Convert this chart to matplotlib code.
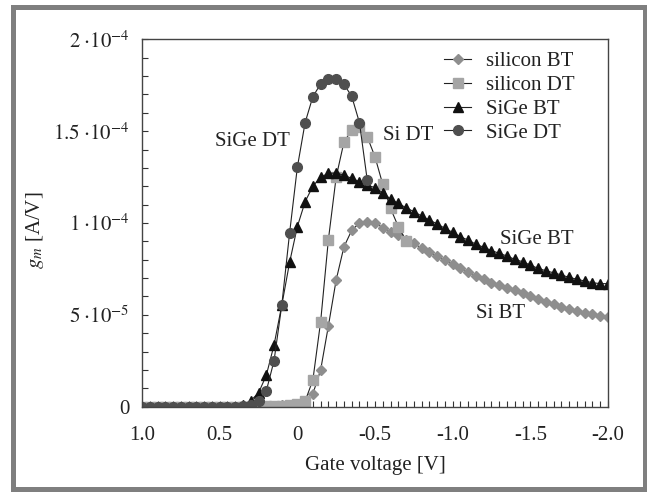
import numpy as np
import matplotlib
matplotlib.use("Agg")
import matplotlib.pyplot as plt
from matplotlib.patches import Rectangle
from matplotlib.ticker import MultipleLocator

plt.rcParams['font.family'] = ['Liberation Serif', 'DejaVu Serif']
plt.rcParams['mathtext.fontset'] = 'stix'

# Gate voltage sweep (V)
voltage = np.linspace(1.0, -2.0, 61)

# transconductance values in units of 1e-5 A/V
silicon_bt = [0]*14 + [0.02, 0.03, 0.04, 0.05, 0.07, 0.1, 0.15,
    0.3, 0.7, 2.0, 4.4, 6.9, 8.7, 9.6, 10.0, 10.07, 10.0,
    9.75, 9.53, 9.35, 9.1, 8.9, 8.62, 8.42, 8.18, 7.97, 7.76,
    7.53, 7.35, 7.12, 6.93, 6.76, 6.62, 6.48, 6.35, 6.21, 6.04,
    5.86, 5.72, 5.57, 5.44, 5.30, 5.21, 5.12, 5.03, 4.94, 4.90]
silicon_dt = [0]*14 + [0.0, 0.01, 0.02, 0.03, 0.05, 0.08, 0.12,
    0.3, 1.45, 4.63, 9.1, 12.5, 14.4, 15.06, 15.2, 14.7, 13.6,
    12.1, 10.8, 9.8, 9.04]
sige_bt = [0]*13 + [0.08, 0.33, 0.75, 1.7, 3.36, 5.53, 7.85, 9.8,
    11.16, 12.0, 12.5, 12.7, 12.72, 12.6, 12.43, 12.25, 12.07, 11.92,
    11.65, 11.3, 11.07, 10.83, 10.62, 10.38, 10.16, 9.95, 9.71, 9.49,
    9.25, 9.07, 8.84, 8.68, 8.5, 8.35, 8.2, 8.02, 7.89, 7.71,
    7.53, 7.40, 7.29, 7.17, 7.04, 6.94, 6.84, 6.75, 6.70, 6.70]
sige_dt = [0]*13 + [0.03, 0.1, 0.3, 0.85, 2.5, 5.54, 9.44, 13.03,
    15.46, 16.88, 17.57, 17.82, 17.82, 17.55, 16.9, 15.46, 12.34]

scale = 1e-5
series_labels = ['silicon BT', 'silicon DT', 'SiGe BT', 'SiGe DT']
ytick_vals = [0, 5e-5, 1e-4, 1.5e-4, 2e-4]
ytick_labels = ['0', r'$5\;{\cdot}10^{-5}$', r'$1\;{\cdot}10^{-4}$',
                r'$1.5\;{\cdot}10^{-4}$', r'$2\;{\cdot}10^{-4}$']
xtick_vals = [1.0, 0.5, 0.0, -0.5, -1.0, -1.5, -2.0]
xtick_labels = ['1.0', '0.5', '0', '-0.5', '-1.0', '-1.5', '-2.0']

FS = 15
fig = plt.figure(figsize=(6.47, 4.92), dpi=100)
ax = fig.add_axes([142/647, 1-406.7/492, 466/647, 367.4/492])

line_c = '#222222'
ax.plot(voltage[:len(silicon_bt)], np.array(silicon_bt)*scale, '-', color=line_c, lw=0.8,
        marker='D', ms=5.2, mfc='#8e8e8e', mec='#8e8e8e', label=series_labels[0])
ax.plot(voltage[:len(silicon_dt)], np.array(silicon_dt)*scale, '-', color=line_c, lw=0.8,
        marker='s', ms=6.5, mfc='#a5a5a5', mec='#a5a5a5', label=series_labels[1])
ax.plot(voltage[:len(sige_bt)], np.array(sige_bt)*scale, '-', color=line_c, lw=0.8,
        marker='^', ms=7, mfc='#111111', mec='#111111', label=series_labels[2])
ax.plot(voltage[:len(sige_dt)], np.array(sige_dt)*scale, '-', color=line_c, lw=0.8,
        marker='o', ms=7, mfc='#4f4f4f', mec='#4f4f4f', label=series_labels[3])

ax.set_xlim(1.0, -2.0)
ax.set_ylim(0, 2e-4)
ax.set_xticks(xtick_vals)
ax.set_xticklabels(xtick_labels)
ax.set_yticks(ytick_vals)
ax.set_yticklabels(ytick_labels)
ax.xaxis.set_minor_locator(MultipleLocator(0.05))
ax.yaxis.set_minor_locator(MultipleLocator(1e-5))
ax.tick_params(axis='both', which='both', direction='in', length=4, width=0.8,
               colors='#333333', labelcolor='#222222', labelsize=FS)
ax.tick_params(axis='x', which='major', pad=14)
ax.tick_params(axis='y', which='major', pad=9)
for sp in ax.spines.values():
    sp.set_color('#444444')
    sp.set_linewidth(1.0)
for lab in ax.get_xticklabels() + ax.get_yticklabels():
    lab.set_clip_on(False)

ax.set_xlabel('Gate voltage [V]', fontsize=FS, color='#222222', labelpad=8)
ax.set_ylabel(r'$g_m$ [A/V]', fontsize=FS, color='#222222')
ax.yaxis.set_label_coords(-0.205, 0.48)

leg = ax.legend(loc='upper right', bbox_to_anchor=(0.955, 1.0), frameon=False,
                fontsize=FS, handlelength=1.3, handletextpad=0.7,
                labelspacing=0.2, numpoints=1, borderaxespad=0.2)
for t in leg.get_texts():
    t.set_color('#222222')

ann = dict(fontsize=FS, color='#222222', ha='center', va='center', transform=ax.transAxes)
ax.text(0.238, 0.721, 'SiGe DT', **ann)
ax.text(0.571, 0.737, 'Si DT', **ann)
ax.text(0.848, 0.456, 'SiGe BT', **ann)
ax.text(0.770, 0.255, 'Si BT', **ann)

# outer gray frame
fig.patches.append(Rectangle((12.5/647, 1-488.5/492), 632/647, 482/492,
                             transform=fig.transFigure, fill=False,
                             edgecolor='#7f7f7f', linewidth=3.6))

fig.savefig('out.png', dpi=100)
